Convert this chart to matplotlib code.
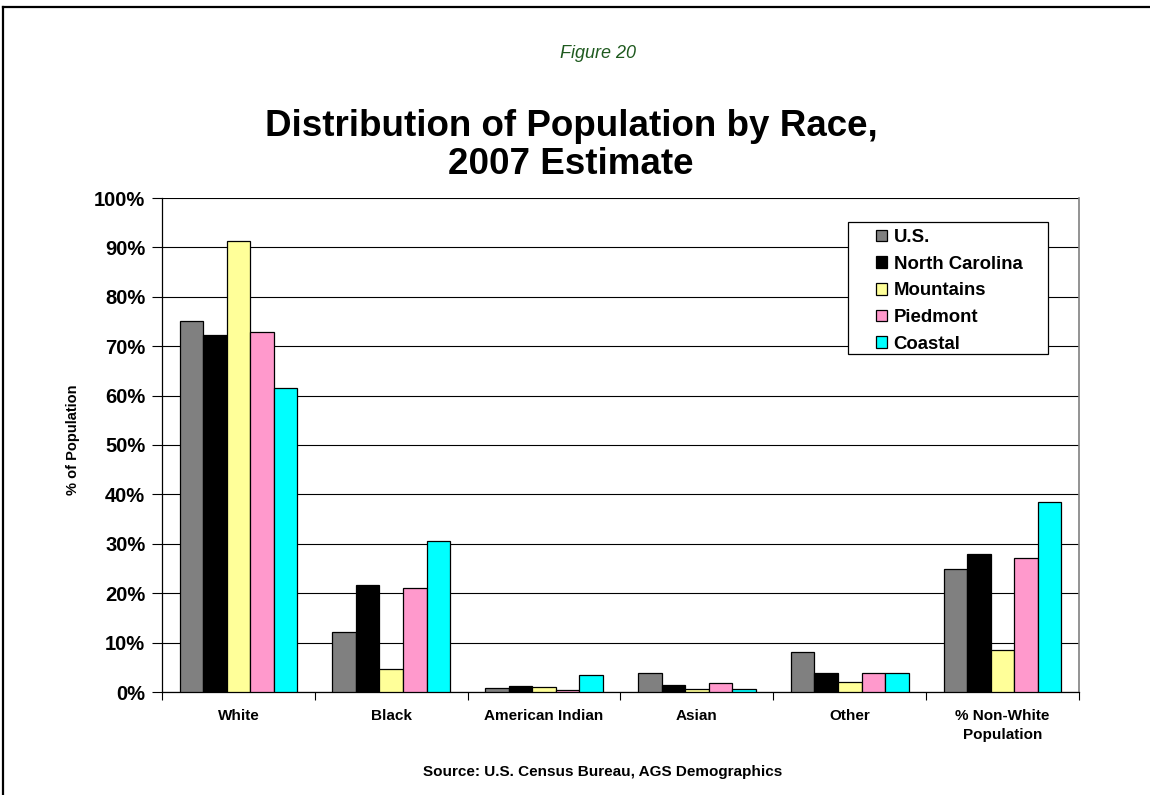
import numpy as np
import matplotlib
matplotlib.use("Agg")
import matplotlib.pyplot as plt
from matplotlib.lines import Line2D
from matplotlib.patches import Rectangle
from matplotlib.ticker import FixedLocator, PercentFormatter

plt.rcParams['font.family'] = ['Liberation Sans', 'DejaVu Sans']

# Race categories and each region's share (%)
categories = ["White", "Black", "American Indian", "Asian", "Other", "% Non-White\nPopulation"]
regions = ["U.S.", "North Carolina", "Mountains", "Piedmont", "Coastal"]
us = [75.0, 12.2, 0.9, 3.8, 8.1, 25.0]
north_carolina = [72.2, 21.6, 1.3, 1.5, 3.8, 28.0]
mountains = [91.3, 4.7, 1.1, 0.6, 2.1, 8.6]
piedmont = [72.9, 21.0, 0.4, 1.8, 3.9, 27.1]
coastal = [61.5, 30.6, 3.4, 0.7, 3.9, 38.5]
colors = ["#808080", "#000000", "#FFFF99", "#FF99CC", "#00FFFF"]

series = [us, north_carolina, mountains, piedmont, coastal]

fig = plt.figure(figsize=(11.5, 7.95), dpi=100)
ax = fig.add_axes([162 / 1150, 103 / 795, 917 / 1150, 494 / 795])

x = np.arange(len(categories))
w = 0.154
for i, (vals, name, c) in enumerate(zip(series, regions, colors)):
    ax.bar(x + (i - 2) * w, vals, width=w, color=c, edgecolor="black",
           linewidth=0.9, label=name, zorder=3)

ax.set_xlim(-0.5, len(categories) - 0.5)
ax.set_ylim(0, 100)
ax.set_yticks(np.arange(0, 101, 10))
ax.yaxis.set_major_formatter(PercentFormatter(decimals=0))
ax.grid(axis="y", color="black", linewidth=0.8, zorder=0)
ax.set_axisbelow(True)

# category labels centered, tick marks on the boundaries
ax.set_xticks(x)
ax.set_xticklabels(categories, fontsize=11, fontweight="bold", linespacing=1.45)
ax.xaxis.set_minor_locator(FixedLocator(np.arange(-0.5, len(categories), 1.0)))
ax.tick_params(axis="x", which="major", length=0, pad=12)
ax.tick_params(axis="x", which="minor", length=6, direction="out", width=0.8)
ax.tick_params(axis="y", length=7, width=0.8, direction="out", pad=5,
               labelsize=14.5)
for lab in ax.get_yticklabels():
    lab.set_fontweight("bold")

ax.spines["top"].set_visible(False)
ax.spines["right"].set_color("#808080")
ax.spines["right"].set_linewidth(1.2)
ax.spines["left"].set_linewidth(0.9)
ax.spines["bottom"].set_linewidth(0.9)

# legend box drawn separately so it can be wider than its entries
ax.add_patch(Rectangle((0.748, 0.684), 0.2181, 0.2672, transform=ax.transAxes,
                       facecolor="white", edgecolor="black", linewidth=0.9,
                       zorder=4))
leg = ax.legend(loc="upper left", bbox_to_anchor=(0.7786, 0.9372), frameon=False,
                fontsize=13.4, handlelength=0.6, handleheight=0.6,
                handletextpad=0.35, labelspacing=0.52, borderpad=0,
                borderaxespad=0)
leg.set_zorder(5)
for t in leg.get_texts():
    t.set_fontweight("bold")

fig.text(73 / 1150, 1 - 440 / 795, "% of Population", rotation=90,
         fontsize=10.5, fontweight="bold", ha="center", va="center")

fig.text(598 / 1150, 1 - 53 / 795, "Figure 20", fontsize=13, style="italic",
         color="#1f5a1f", ha="center", va="center")
fig.text(571 / 1150, 1 - 145.5 / 795, "Distribution of Population by Race,\n2007 Estimate",
         fontsize=26.5, fontweight="bold", ha="center", va="center",
         linespacing=1.11)
fig.text(603 / 1150, 1 - 772 / 795, "Source: U.S. Census Bureau, AGS Demographics",
         fontsize=11, fontweight="bold", ha="center", va="center")

# page frame lines (top and left)
fig.add_artist(Line2D([3 / 1150, 1], [1 - 7 / 795, 1 - 7 / 795],
                      transform=fig.transFigure, color="black", linewidth=1.6))
fig.add_artist(Line2D([3 / 1150, 3 / 1150], [0, 1 - 7 / 795],
                      transform=fig.transFigure, color="black", linewidth=1.6))

fig.savefig("out.png", dpi=100)
